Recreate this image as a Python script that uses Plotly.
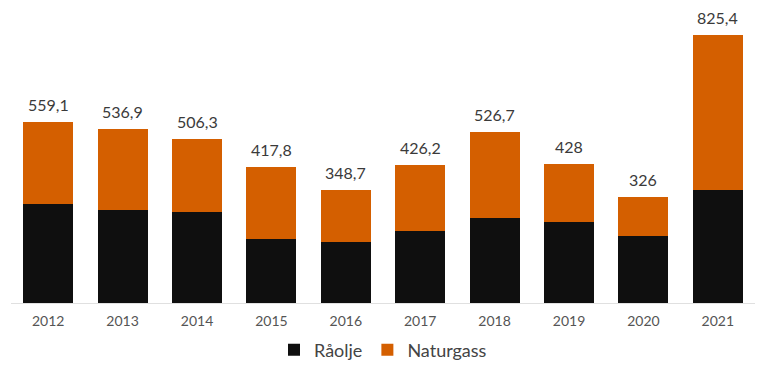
import plotly.graph_objects as go

years = ["2012", "2013", "2014", "2015", "2016", "2017", "2018", "2019", "2020", "2021"]
raaolje = [305.0, 287.4, 281.2, 197.1, 186.6, 222.7, 260.6, 249.5, 207.3, 349.0]
naturgass = [254.1, 249.5, 225.1, 220.7, 162.1, 203.5, 266.1, 178.5, 118.7, 476.4]
totals = ["559,1", "536,9", "506,3", "417,8", "348,7", "426,2", "526,7", "428", "326", "825,4"]

FONT = "Lato, 'Open Sans', sans-serif"

fig = go.Figure()
fig.add_trace(go.Bar(
    x=years, y=raaolje, name="Råolje",
    marker=dict(color="#0f0f0f", line=dict(width=0)),
))
fig.add_trace(go.Bar(
    x=years, y=naturgass, name="Naturgass",
    marker=dict(color="#d45f00", line=dict(width=0)),
))

for i, (o, g, lab) in enumerate(zip(raaolje, naturgass, totals)):
    fig.add_annotation(
        x=i, y=o + g, text=lab, showarrow=False,
        xanchor="center", yanchor="bottom", yshift=6,
        font=dict(size=16, color="#3a3a3a", family=FONT),
    )

fig.update_layout(
    barmode="stack",
    bargap=0.33,
    width=767, height=370,
    margin=dict(l=11, r=12, t=0, b=67),
    paper_bgcolor="white", plot_bgcolor="white",
    font=dict(family=FONT, color="#555555", size=14),
    showlegend=True,
    legend=dict(orientation="h", x=0.5, xanchor="center", xref="paper",
                y=1 - 350 / 370, yanchor="middle", yref="container",
                font=dict(size=18, color="#444444"), traceorder="normal",
                itemwidth=30),
    xaxis=dict(type="category", range=[-0.5, len(years) - 0.5], showgrid=False,
               showline=True, linecolor="#e0e0e0", linewidth=1,
               ticks="", ticklabelstandoff=5, tickfont=dict(size=14, color="#555555")),
    yaxis=dict(visible=False, range=[0, 934], showgrid=False, zeroline=False),
)

fig.write_html("out.html", config={"displayModeBar": False},
               post_script="document.body.style.margin='0';")
